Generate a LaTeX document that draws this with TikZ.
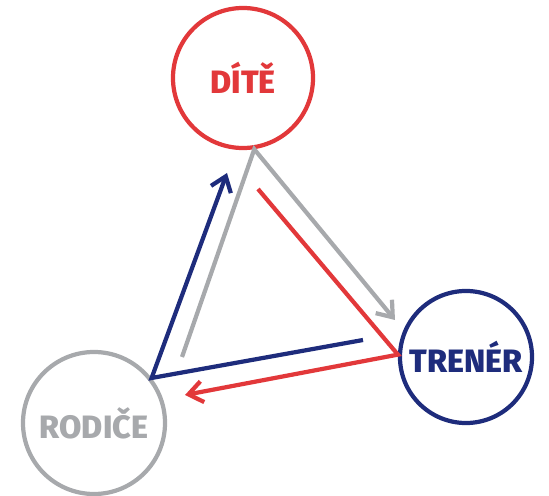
\documentclass[tikz,border=0pt]{standalone}
\usepackage{fontspec}
\setmainfont{Fira Sans}[BoldFont={* ExtraBold}]
\usepackage{xcolor}
\usepackage{tikz}
\usetikzlibrary{arrows.meta}

\definecolor{ditered}{RGB}{226,56,58}
\definecolor{trenerblue}{RGB}{30,44,124}
\definecolor{rodicegray}{RGB}{167,169,172}

\begin{document}
\begin{tikzpicture}[x=0.025cm,y=0.025cm]

        \tikzstyle{role}=[circle,draw,line width=3pt,inner sep=0pt,
            font=\fontsize{23}{27}\selectfont\bfseries]
        \tikzstyle{bond}=[line width=3pt,
            -{Straight Barb[length=10pt,width=15pt,line width=3pt]}]

        \useasboundingbox (0,0) rectangle (549,496);

        %% the three circles
        \node[role,draw=ditered,text=ditered,minimum size=3.5cm] (dite) at (243,418) {DÍTĚ};
        \node[role,draw=trenerblue,text=trenerblue,minimum size=3.3cm] (trener) at (466,139) {TRENÉR};
        \node[role,draw=rodicegray,text=rodicegray,minimum size=3.55cm] (rodice) at (94,73) {RODIČE};

        %% free ends of the arrows
        \coordinate (grayfrom) at (182,139);
        \coordinate (grayto) at (395,176);
        \coordinate (bluefrom) at (363,156);
        \coordinate (blueto) at (227,323);
        \coordinate (redfrom) at (258,307);
        \coordinate (redto) at (185,101);

        %% arrows
        \draw[bond,rodicegray] (grayfrom) -- (dite.-81) -- (grayto);
        \draw[bond,trenerblue] (bluefrom) -- (rodice.38) -- (blueto);
        \draw[bond,ditered] (redfrom) -- (trener.178) -- (redto);

\end{tikzpicture}
\end{document}
